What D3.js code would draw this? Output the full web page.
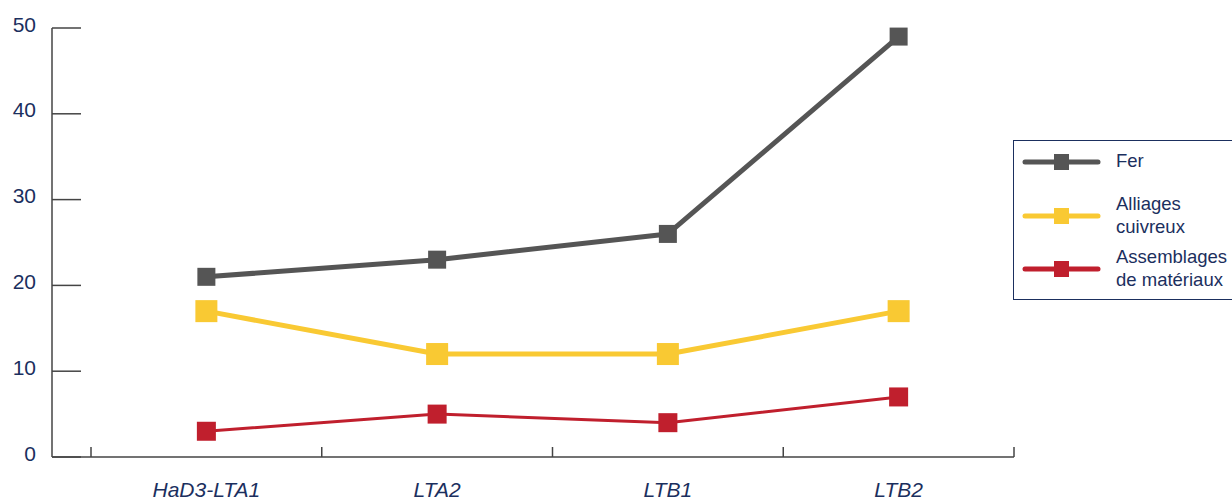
<!DOCTYPE html>
<html><head><meta charset="utf-8">
<script src="https://cdn.jsdelivr.net/npm/d3@7"></script>
<style>
html,body{margin:0;padding:0;background:#fff;}
svg{display:block;font-family:"Liberation Sans",Arial,sans-serif;}
</style></head>
<body><svg id="c" width="1232" height="500"></svg>
<script>
const categories = ["HaD3-LTA1", "LTA2", "LTB1", "LTB2"];
const fer = [21, 23, 26, 49];
const alliages = [17, 12, 12, 17];
const assemblages = [3, 5, 4, 7];
const yTicks = [0, 10, 20, 30, 40, 50];
const seriesNames = [["Fer"], ["Alliages", "cuivreux"], ["Assemblages", "de matériaux"]];

const series = [
  {name: seriesNames[0], values: fer, color: "#555555", width: 5, size: 18},
  {name: seriesNames[1], values: alliages, color: "#F9C933", width: 5, size: 22},
  {name: seriesNames[2], values: assemblages, color: "#C01F2D", width: 3, size: 19}
];

const svg = d3.select("#c");
const navy = "#1b2f5e";
const axisColor = "#444444";

const x = d3.scaleBand().domain(categories).range([91, 1014]);
const y = d3.scaleLinear().domain([0, 50]).range([457, 28]);
const x0 = 52;

// y axis
const gy = svg.append("g");
gy.append("line").attr("x1", x0).attr("x2", x0).attr("y1", y(50)).attr("y2", y(0))
  .attr("stroke", axisColor).attr("stroke-width", 1.5);
gy.selectAll("line.t").data(yTicks).join("line").attr("class", "t")
  .attr("x1", x0).attr("x2", 81).attr("y1", d => y(d)).attr("y2", d => y(d))
  .attr("stroke", axisColor).attr("stroke-width", 1.5);
gy.selectAll("text").data(yTicks).join("text")
  .attr("x", 36).attr("y", d => y(d) - 2).attr("text-anchor", "end")
  .attr("dominant-baseline", "middle").attr("font-size", 21).attr("fill", navy)
  .text(d => d);

// x axis
const gx = svg.append("g");
gx.append("line").attr("x1", x0).attr("x2", x.range()[1]).attr("y1", y(0)).attr("y2", y(0))
  .attr("stroke", axisColor).attr("stroke-width", 1.5);
const tickPos = categories.map(c => x(c)).concat([x.range()[1]]);
gx.selectAll("line.t").data(tickPos).join("line").attr("class", "t")
  .attr("x1", d => d).attr("x2", d => d).attr("y1", y(0)).attr("y2", y(0) - 10)
  .attr("stroke", axisColor).attr("stroke-width", 1.5);
gx.selectAll("text").data(categories).join("text")
  .attr("x", d => x(d) + x.bandwidth() / 2).attr("y", 497)
  .attr("text-anchor", "middle").attr("font-size", 21).attr("font-style", "italic")
  .attr("fill", navy).text(d => d);

// lines
const line = d3.line().x((d, i) => x(categories[i]) + x.bandwidth() / 2).y(d => y(d));
series.forEach(s => {
  const g = svg.append("g");
  g.append("path").attr("d", line(s.values)).attr("fill", "none")
    .attr("stroke", s.color).attr("stroke-width", s.width).attr("stroke-linejoin", "round");
  g.selectAll("rect").data(s.values).join("rect")
    .attr("x", (d, i) => x(categories[i]) + x.bandwidth() / 2 - s.size / 2)
    .attr("y", d => y(d) - s.size / 2)
    .attr("width", s.size).attr("height", s.size).attr("fill", s.color);
});

// legend
const lg = svg.append("g");
lg.append("rect").attr("x", 1013.5).attr("y", 140.5).attr("width", 240).attr("height", 159)
  .attr("fill", "#fff").attr("stroke", navy).attr("stroke-width", 1);
const legendY = [162, 216, 269];
series.forEach((s, i) => {
  const cy = legendY[i];
  lg.append("line").attr("x1", 1025).attr("x2", 1098).attr("y1", cy).attr("y2", cy)
    .attr("stroke", s.color).attr("stroke-width", 5).attr("stroke-linecap", "round");
  lg.append("rect").attr("x", 1054).attr("y", cy - 8).attr("width", 15).attr("height", 16)
    .attr("fill", s.color);
  const lines = s.name;
  const t = lg.append("text").attr("font-size", 18.5).attr("fill", navy);
  lines.forEach((ln, j) => {
    t.append("tspan").attr("x", 1116)
      .attr("y", lines.length === 1 ? cy + 5 : cy - 6 + j * 23).text(ln);
  });
});
</script></body></html>
